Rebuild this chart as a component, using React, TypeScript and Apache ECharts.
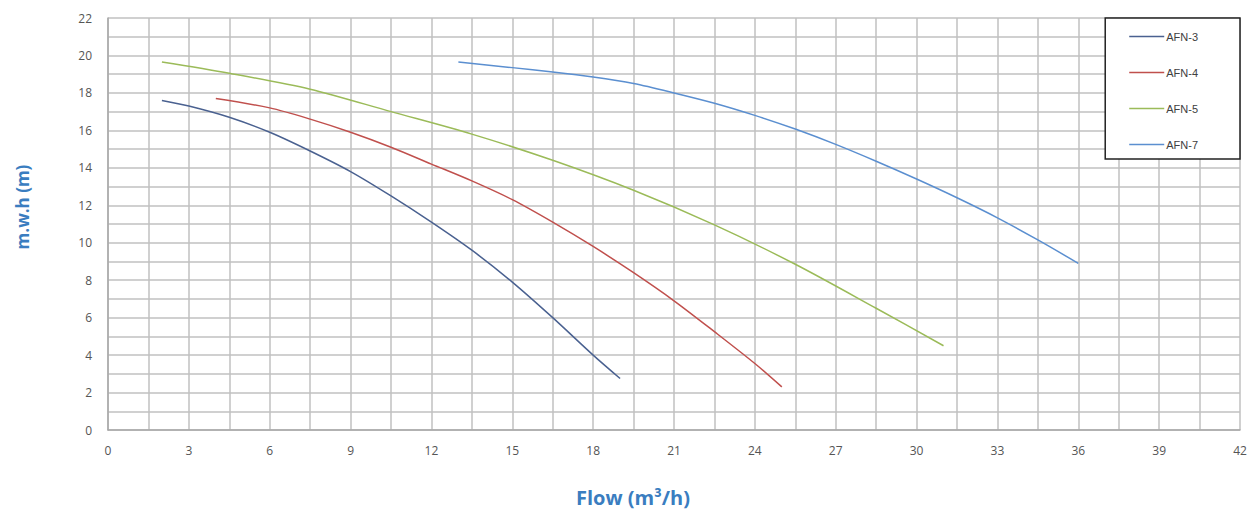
import React, { useEffect, useRef } from "react";
import * as echarts from "echarts";

const seriesNames = ["AFN-3", "AFN-4", "AFN-5", "AFN-7"];
const seriesColors = ["#4A6190", "#C0504D", "#9BBB59", "#5B8FD0"];

const afn3: [number, number][] = [
  [2, 17.6], [3, 17.3], [4.5, 16.7], [6, 15.9], [7.5, 14.9], [9, 13.8], [10.5, 12.5],
  [12, 11.1], [13.5, 9.6], [15, 7.9], [16.5, 6.0], [18, 4.0], [19, 2.75],
];
const afn4: [number, number][] = [
  [4, 17.7], [6, 17.2], [7.5, 16.6], [9, 15.9], [10.5, 15.1], [12, 14.2], [13.5, 13.3],
  [15, 12.3], [16.5, 11.1], [18, 9.8], [19.5, 8.4], [21, 6.9], [22.5, 5.25], [24, 3.55], [25, 2.3],
];
const afn5: [number, number][] = [
  [2, 19.65], [4.5, 19.05], [7.5, 18.2], [10.5, 17.0], [13.5, 15.8], [16.5, 14.4],
  [19.5, 12.8], [22.5, 10.95], [25.5, 8.85], [28.5, 6.5], [31, 4.5],
];
const afn7: [number, number][] = [
  [13, 19.65], [15, 19.35], [16.5, 19.12], [18, 18.85], [19.5, 18.5], [21, 18.0], [22.5, 17.45],
  [24, 16.8], [25.5, 16.07], [27, 15.25], [28.5, 14.35], [30, 13.4], [31.5, 12.4], [33, 11.33],
  [34.5, 10.15], [36, 8.9],
];
const seriesData = [afn3, afn4, afn5, afn7];

const xTitle = "Flow (m³/h)";
const yTitle = "m.w.h (m)";

const gridColor = "#C0C0C0";

export default function App() {
  const ref = useRef<HTMLDivElement>(null);
  useEffect(() => {
    if (!ref.current) return;
    const chart = echarts.init(ref.current, undefined, { renderer: "svg" });
    chart.setOption({
      animation: false,
      backgroundColor: "#ffffff",
      grid: { left: 108, right: 18, top: 18, bottom: 82 },
      xAxis: {
        type: "value",
        min: 0,
        max: 42,
        interval: 3,
        axisLine: { show: true, lineStyle: { color: "#A8A8A8", width: 1.5 } },
        axisTick: { show: false },
        axisLabel: { color: "#555555", fontFamily: "Open Sans", fontSize: 12, margin: 14 },
        splitLine: { show: true, lineStyle: { color: gridColor, width: 1.5 } },
        minorTick: { show: false, splitNumber: 2 },
        minorSplitLine: { show: true, lineStyle: { color: gridColor, width: 1.5 } },
      },
      yAxis: {
        type: "value",
        min: 0,
        max: 22,
        interval: 2,
        axisLine: { show: true, lineStyle: { color: "#A8A8A8", width: 1.5 } },
        axisTick: { show: false },
        axisLabel: { color: "#555555", fontFamily: "Open Sans", fontSize: 12, margin: 16 },
        splitLine: { show: true, lineStyle: { color: gridColor, width: 1.5 } },
        minorTick: { show: false, splitNumber: 2 },
        minorSplitLine: { show: true, lineStyle: { color: gridColor, width: 1.5 } },
      },
      legend: {
        orient: "vertical",
        right: 18,
        top: 18,
        icon: "rect",
        itemWidth: 35,
        itemHeight: 1.5,
        itemGap: 25,
        padding: [13, 42, 9, 24],
        borderColor: "#222222",
        borderWidth: 1.5,
        backgroundColor: "#ffffff",
        textStyle: { color: "#404040", fontFamily: "Liberation Sans", fontSize: 11, padding: [0, 0, 0, -3] },
        data: seriesNames,
      },
      graphic: [
        {
          type: "text",
          x: 633,
          y: 497,
          style: {
            text: xTitle,
            fill: "#3A7DC0",
            font: "bold 20px 'Open Sans'",
            align: "center",
            verticalAlign: "middle",
          },
        },
        {
          type: "text",
          x: 22,
          y: 207,
          rotation: Math.PI / 2,
          style: {
            text: yTitle,
            fill: "#3A7DC0",
            font: "bold 17px 'Open Sans'",
            align: "center",
            verticalAlign: "middle",
          },
        },
      ],
      series: seriesNames.map((name, i) => ({
        name,
        type: "line",
        data: seriesData[i],
        smooth: 0.3,
        symbol: "none",
        lineStyle: { color: seriesColors[i], width: 1.5 },
        itemStyle: { color: seriesColors[i] },
      })),
    });
    return () => chart.dispose();
  }, []);
  return (
    <div
      ref={ref}
      style={{ position: "fixed", left: 0, top: 0, width: 1258, height: 512 }}
    />
  );
}
